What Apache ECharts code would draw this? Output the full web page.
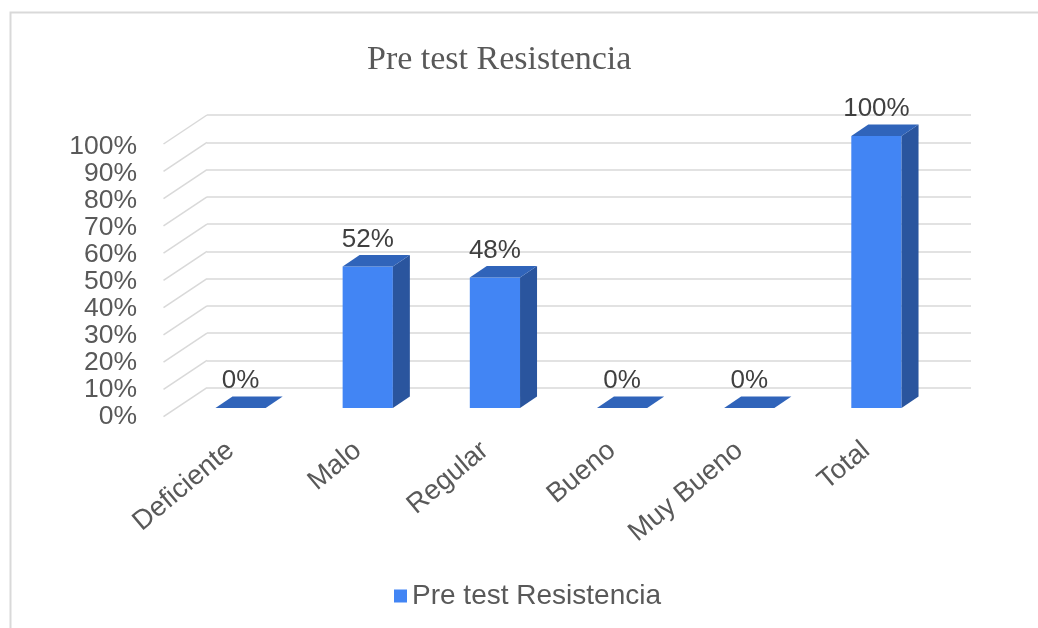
<!DOCTYPE html>
<html>
<head>
<meta charset="utf-8">
<script src="https://cdn.jsdelivr.net/npm/echarts/dist/echarts.min.js"></script>
<style>
html, body { margin: 0; padding: 0; background: #ffffff; }
#main { width: 1038px; height: 628px; }
</style>
</head>
<body>
<div id="main"></div>
<script>
// data
var categories = ['Deficiente', 'Malo', 'Regular', 'Bueno', 'Muy Bueno', 'Total'];
var values = [0, 52, 48, 0, 0, 100];
var yTicks = [0, 10, 20, 30, 40, 50, 60, 70, 80, 90, 100];
var seriesName = 'Pre test Resistencia';

// 3d look
var FRONT = '#4285F4';
var TOP = '#3064BA';
var SIDE = '#2A559E';
var DX = 17, DY = 11.5;

function renderBar(params, api) {
    var v = api.value(1);
    var base = api.coord([api.value(0), 0]);
    var top = api.coord([api.value(0), v]);
    var bw = api.size([1, 0])[0] * 0.395;
    var x0 = base[0] - bw / 2, x1 = base[0] + bw / 2;
    var yB = base[1], yT = top[1];
    var kids = [];
    if (yB - yT > 0.5) {
        kids.push({ type: 'rect', shape: { x: x0, y: yT, width: bw, height: yB - yT }, style: { fill: FRONT } });
        kids.push({ type: 'polygon', shape: { points: [[x1, yT], [x1 + DX, yT - DY], [x1 + DX, yB - DY], [x1, yB]] }, style: { fill: SIDE } });
    }
    kids.push({ type: 'polygon', shape: { points: [[x0, yT], [x1, yT], [x1 + DX, yT - DY], [x0 + DX, yT - DY]] }, style: { fill: TOP } });
    kids.push({
        type: 'text',
        style: {
            text: v + '%', x: base[0], y: yT - DY - 15.5,
            align: 'center', verticalAlign: 'middle',
            fontSize: 26, fontFamily: '"Liberation Sans", Arial, sans-serif', fill: '#404040'
        }
    });
    return { type: 'group', children: kids };
}

// side wall lines
function renderWall(params, api) {
    var p = api.coord([0, api.value(1)]);
    return {
        type: 'line',
        shape: { x1: p[0], y1: p[1], x2: p[0] - 43.5, y2: p[1] + 29 },
        style: { stroke: '#d9d9d9', lineWidth: 1.5 }
    };
}

var myChart = echarts.init(document.getElementById('main'));
var option = {
    backgroundColor: '#ffffff',
    animation: false,
    title: {
        text: seriesName,
        left: 362,
        top: 38,
        textStyle: {
            color: '#595959',
            fontFamily: '"Liberation Serif", "Times New Roman", serif',
            fontWeight: 'normal',
            fontSize: 34
        }
    },
    legend: {
        data: [seriesName],
        left: 389,
        top: 577,
        icon: 'rect',
        itemWidth: 13,
        itemHeight: 13,
        textStyle: {
            color: '#595959',
            fontFamily: '"Liberation Sans", Arial, sans-serif',
            fontSize: 28
        }
    },
    graphic: [{
        type: 'rect',
        left: 8, top: 10,
        shape: { width: 1040, height: 630 },
        style: { fill: 'none', stroke: '#d9d9d9', lineWidth: 2 },
        silent: true
    }],
    grid: [
        { left: 177, right: 98, top: 136, height: 272 },          // bars
        { left: 207, right: 67, top: 115, height: 272.7 },        // back wall
        { left: 140, width: 10, top: 146.7, height: 270 },        // y labels
        { left: 167, right: 108, top: 136, height: 272 }          // x labels
    ],
    xAxis: [
        { gridIndex: 0, type: 'category', data: categories, show: false },
        { gridIndex: 1, type: 'value', min: 0, max: 1, show: false },
        { gridIndex: 2, type: 'value', min: 0, max: 1, show: false },
        {
            gridIndex: 3, type: 'category', data: categories,
            axisLine: { show: false }, axisTick: { show: false },
            axisLabel: {
                interval: 0, rotate: 40, margin: 39,
                color: '#595959', fontSize: 27.5,
                fontFamily: '"Liberation Sans", Arial, sans-serif'
            }
        }
    ],
    yAxis: [
        { gridIndex: 0, type: 'value', min: 0, max: 100, show: false },
        {
            gridIndex: 1, type: 'value', min: 0, max: 100, interval: 10,
            axisLine: { show: false }, axisTick: { show: false }, axisLabel: { show: false },
            splitLine: { show: true, lineStyle: { color: '#d9d9d9', width: 1.5 } }
        },
        {
            gridIndex: 2, type: 'value', min: 0, max: 100, interval: 10,
            axisLine: { show: false }, axisTick: { show: false }, splitLine: { show: false },
            axisLabel: {
                margin: 3, color: '#595959', fontSize: 26.5,
                fontFamily: '"Liberation Sans", Arial, sans-serif',
                formatter: function (v) { return v + '%'; }
            }
        },
        { gridIndex: 3, type: 'value', min: 0, max: 100, show: false }
    ],
    series: [
        {
            type: 'custom',
            xAxisIndex: 1, yAxisIndex: 1,
            silent: true,
            renderItem: renderWall,
            data: yTicks.map(function (t) { return [0, t]; }),
            z: 1
        },
        {
            name: seriesName,
            type: 'custom',
            xAxisIndex: 0, yAxisIndex: 0,
            itemStyle: { color: FRONT },
            renderItem: renderBar,
            data: values.map(function (v, i) { return [i, v]; }),
            z: 5
        }
    ]
};
myChart.setOption(option);
window.addEventListener('resize', function () {
    myChart.resize();
});
</script>
</body>
</html>
